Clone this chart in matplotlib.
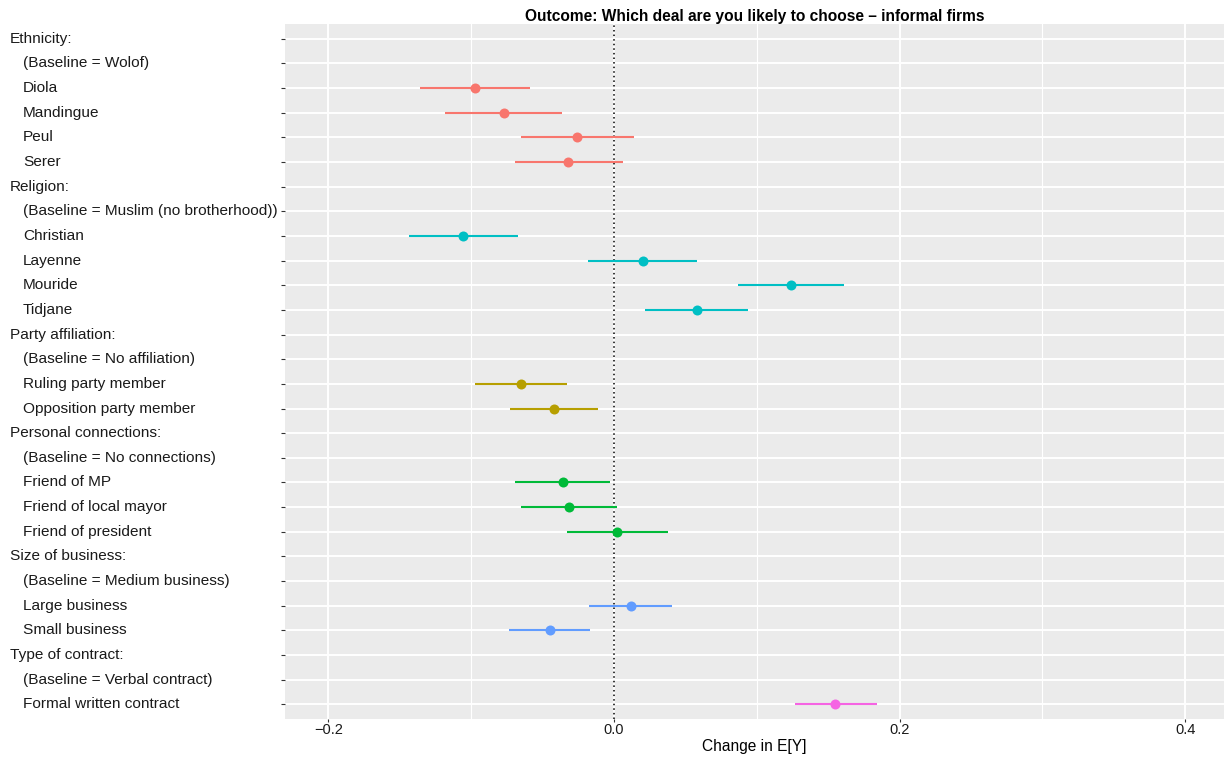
# -*- coding: utf-8 -*-

import numpy as np
import matplotlib.pyplot as plt
from matplotlib.transforms import blended_transform_factory

plt.rcParams['font.family'] = ['Liberation Sans', 'DejaVu Sans']

# 行标签, 0 = 分组标题, 1 = 缩进的类别
labels = ['Ethnicity:', '(Baseline = Wolof)', 'Diola', 'Mandingue', 'Peul', 'Serer',
          'Religion:', '(Baseline = Muslim (no brotherhood))', 'Christian', 'Layenne',
          'Mouride', 'Tidjane',
          'Party affiliation:', '(Baseline = No affiliation)', 'Ruling party member',
          'Opposition party member',
          'Personal connections:', '(Baseline = No connections)', 'Friend of MP',
          'Friend of local mayor', 'Friend of president',
          'Size of business:', '(Baseline = Medium business)', 'Large business',
          'Small business',
          'Type of contract:', '(Baseline = Verbal contract)', 'Formal written contract']
indent = [0, 1, 1, 1, 1, 1,
          0, 1, 1, 1, 1, 1,
          0, 1, 1, 1,
          0, 1, 1, 1, 1,
          0, 1, 1, 1,
          0, 1, 1]
group = ['Ethnicity'] * 6 + ['Religion'] * 6 + ['Party'] * 4 + ['Personal'] * 5 + \
        ['Size'] * 4 + ['Contract'] * 3

nan = np.nan
est = np.array([nan, nan, -0.097, -0.077, -0.026, -0.032,
                nan, nan, -0.1055, 0.020, 0.124, 0.058,
                nan, nan, -0.065, -0.042,
                nan, nan, -0.036, -0.0315, 0.002,
                nan, nan, 0.0117, -0.045,
                nan, nan, 0.155])
lo = np.array([nan, nan, -0.1356, -0.118, -0.065, -0.0696,
               nan, nan, -0.1435, -0.018, 0.087, 0.022,
               nan, nan, -0.0976, -0.0726,
               nan, nan, -0.0696, -0.0654, -0.033,
               nan, nan, -0.0173, -0.0733,
               nan, nan, 0.1268])
hi = np.array([nan, nan, -0.059, -0.0365, 0.0137, 0.0065,
               nan, nan, -0.067, 0.058, 0.161, 0.094,
               nan, nan, -0.033, -0.0114,
               nan, nan, -0.0028, 0.0023, 0.0376,
               nan, nan, 0.0408, -0.0166,
               nan, nan, 0.184])

colors = {'Ethnicity': '#F8766D', 'Party': '#B79F00', 'Personal': '#00BA38',
          'Religion': '#00BFC4', 'Size': '#619CFF', 'Contract': '#F564E3'}

n = len(labels)
ypos = np.arange(n)[::-1]

fig = plt.figure(figsize=(12.24, 7.58), dpi=100)
ax = fig.add_axes([0.2328, 0.0514, 0.767, 0.9169])
ax.set_facecolor('#EBEBEB')
for s in ax.spines.values():
    s.set_visible(False)

# 网格线
for x in [-0.1, 0.1, 0.3]:
    ax.axvline(x, color='white', linewidth=0.8, zorder=0)
for x in [-0.2, 0.0, 0.2, 0.4]:
    ax.axvline(x, color='white', linewidth=1.4, zorder=0)
for y in ypos:
    ax.axhline(y, color='white', linewidth=1.4, zorder=0)

ax.axvline(0, color='black', linestyle=(0, (1, 2)), linewidth=1.1, zorder=1)

for i in range(n):
    if np.isnan(est[i]):
        continue
    c = colors[group[i]]
    ax.hlines(ypos[i], lo[i], hi[i], color=c, linewidth=1.5, zorder=2)
    ax.plot(est[i], ypos[i], 'o', color=c, markersize=7.2, markeredgewidth=0, zorder=3)

ax.set_xlim(-0.2304, 0.427)
ax.set_ylim(-0.6, n - 0.4)

ax.set_xticks([-0.2, 0.0, 0.2, 0.4])
ax.set_xticklabels(['\u22120.2', '0.0', '0.2', '0.4'])
ax.set_yticks(ypos)
ax.set_yticklabels([''] * n)
ax.tick_params(axis='y', color='#333333', length=3, width=0.8)
ax.tick_params(axis='x', color='#333333', length=2, width=0.8, labelsize=10.5,
               labelcolor='#1a1a1a', pad=0.5)

trans = blended_transform_factory(fig.transFigure, ax.transData)
for i in range(n):
    xx = 10 / 1224 if indent[i] == 0 else 23 / 1224
    ax.text(xx, ypos[i], labels[i], transform=trans, ha='left', va='center',
            fontsize=11.1, color='#1a1a1a')

ax.set_xlabel('Change in E[Y]', fontsize=11.2, labelpad=2)
ax.set_title('Outcome: Which deal are you likely to choose \u2013 informal firms',
             fontsize=11.2, fontweight='bold', pad=1.5)

plt.savefig('out.png', dpi=100)
